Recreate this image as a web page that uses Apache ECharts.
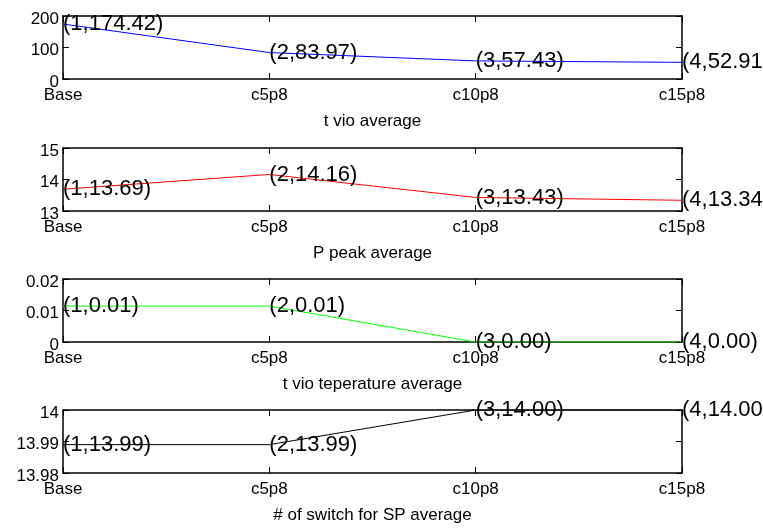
<!DOCTYPE html>
<html>
<head>
<meta charset="utf-8">
<script src="https://cdn.jsdelivr.net/npm/echarts@6/dist/echarts.min.js"></script>
<style>html,body{margin:0;padding:0;background:#fff;}#c{width:763px;height:529px;}</style>
</head>
<body>
<div id="c"></div>
<script>
const categories = ['Base', 'c5p8', 'c10p8', 'c15p8'];
const tVioAvg = [174.42, 83.97, 57.43, 52.91];
const pPeakAvg = [13.69, 14.16, 13.43, 13.34];
const tVioTempAvg = [0.0114, 0.0114, 0, 0];
const switchSPAvg = [13.989, 13.989, 14.0, 14.0];
const titles = ['t vio average', 'P peak average', 't vio teperature average', '# of switch for SP average'];
const yMins = [0, 13, 0, 13.98];
const yMaxs = [200, 15, 0.02, 14];
const yIntervals = [100, 1, 0.01, 0.01];
const colors = ['#0000ff', '#ff0000', '#00ff00', '#000000'];
const seriesData = [tVioAvg, pPeakAvg, tVioTempAvg, switchSPAvg];

const FONT = 'Arial, "Liberation Sans", sans-serif';
const tops = [16, 148, 279, 410];
const grids = [], xAxes = [], yAxes = [], series = [];
const axisLine = {show: true, onZero: false, lineStyle: {color: '#000', width: 1.5}};
const tick = {show: true, inside: true, length: 6, lineStyle: {color: '#000', width: 1}};
for (let i = 0; i < 4; i++) {
  grids.push({left: 63, right: 81, top: tops[i], height: 63});
  xAxes.push({
    type: 'category', gridIndex: i, data: categories, boundaryGap: false,
    position: 'bottom', axisLine: axisLine, axisTick: Object.assign({alignWithLabel: true}, tick),
    axisLabel: {color: '#000', fontFamily: FONT, fontSize: 17, margin: 8, interval: 0},
    name: titles[i], nameLocation: 'middle', nameGap: 34,
    nameTextStyle: {color: '#000', fontFamily: FONT, fontSize: 17},
    splitLine: {show: false}
  });
  xAxes.push({
    type: 'category', gridIndex: i, data: categories, boundaryGap: false,
    position: 'top', axisLine: axisLine, axisTick: tick,
    axisLabel: {show: false}, splitLine: {show: false}
  });
  const fmt = v => String(+(+v).toFixed(4));
  yAxes.push({
    type: 'value', gridIndex: i, min: yMins[i], max: yMaxs[i], interval: yIntervals[i],
    position: 'left', axisLine: axisLine, axisTick: tick,
    axisLabel: {color: '#000', fontFamily: FONT, fontSize: 17, margin: 4, formatter: fmt,
                verticalAlign: 'top', lineHeight: 6},
    splitLine: {show: false}
  });
  yAxes.push({
    type: 'value', gridIndex: i, min: yMins[i], max: yMaxs[i], interval: yIntervals[i],
    position: 'right', axisLine: axisLine, axisTick: tick,
    axisLabel: {show: false}, splitLine: {show: false}
  });
  series.push({
    type: 'line', xAxisIndex: 2 * i, yAxisIndex: 2 * i, data: seriesData[i],
    symbol: 'circle', symbolSize: 0, showSymbol: true,
    lineStyle: {color: colors[i], width: 1}, itemStyle: {color: colors[i]},
    animation: false, silent: true,
    label: {
      show: true, position: 'right', distance: 0, color: '#000',
      fontFamily: FONT, fontSize: 22,
      formatter: p => '(' + (p.dataIndex + 1) + ',' + p.value.toFixed(2) + ')'
    }
  });
}
const chart = echarts.init(document.getElementById('c'), null, {renderer: 'canvas'});
chart.setOption({animation: false, backgroundColor: '#fff', grid: grids, xAxis: xAxes, yAxis: yAxes, series: series});
</script>
</body>
</html>
